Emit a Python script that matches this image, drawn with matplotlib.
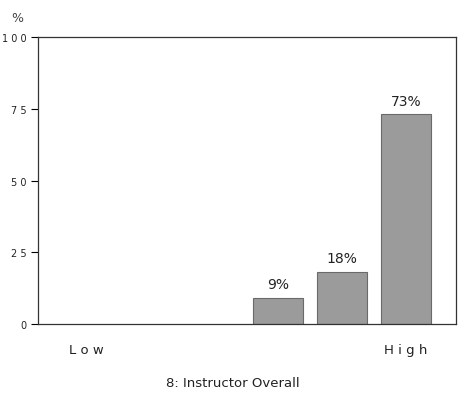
import matplotlib
matplotlib.use("Agg")
import matplotlib.pyplot as plt

# ── data ─────────────────────────────────────────────────────────────────────
positions = [0, 1, 2, 3, 4, 5]
percent = [0, 0, 0, 9, 18, 73]
bar_labels = ["", "", "", "9%", "18%", "73%"]
y_ticks = [0, 25, 50, 75, 100]
y_tick_labels = ["0", "2 5", "5 0", "7 5", "1 0 0"]
end_labels = {0: "L o w", 5: "H i g h"}
title = "8: Instructor Overall"

fig = plt.figure(figsize=(4.65, 4.02), dpi=100)
ax = fig.add_axes([0.0817, 0.1915, 0.899, 0.714])

for x, v, lab in zip(positions, percent, bar_labels):
    if v <= 0:
        continue
    ax.bar(x, v, width=0.77, color="#9b9b9b", edgecolor="#6a6a6a", linewidth=0.8)
    ax.annotate(lab, (x, v), xytext=(0, 5), textcoords="offset points",
                ha="center", va="bottom", fontsize=10, color="#222222")

ax.set_xlim(-0.75, 5.78)
ax.set_ylim(0, 100)
ax.set_yticks(y_ticks)
ax.set_yticklabels(y_tick_labels, fontsize=7, color="#222222")
ax.tick_params(axis="y", direction="out", length=5, width=0.8, pad=3)
ax.set_xticks([])

for side in ["left", "right", "top", "bottom"]:
    ax.spines[side].set_linewidth(0.9)
    ax.spines[side].set_color("#333333")

for x, txt in end_labels.items():
    ax.text(x, -6.5, txt, ha="center", va="top", fontsize=9.5, color="#222222",
            transform=ax.transData)

fig.text(0.037, 0.955, "%", fontsize=9, color="#444444", ha="center", va="center")
fig.text(0.5, 0.047, title, fontsize=9.5, color="#222222", ha="center", va="center")

fig.savefig("out.png", dpi=100)
